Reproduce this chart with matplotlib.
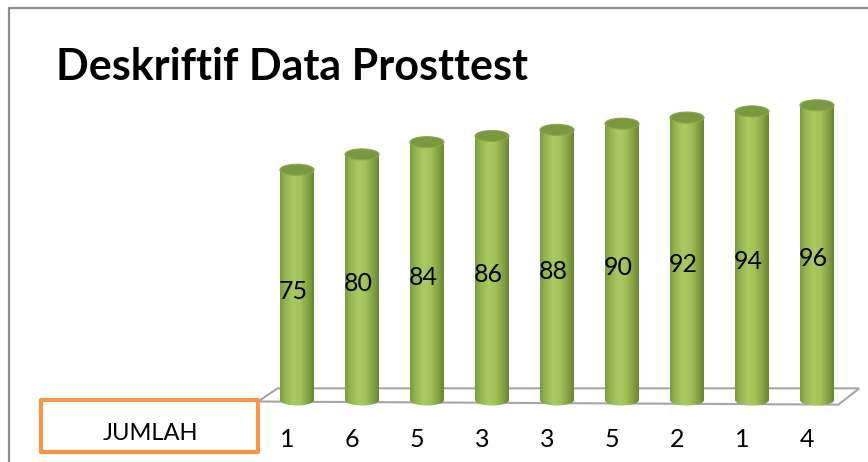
import matplotlib.pyplot as plt
import numpy as np
from matplotlib.patches import Ellipse, PathPatch, Rectangle, Polygon
from matplotlib.path import Path
from matplotlib.colors import LinearSegmentedColormap

# nilai post-test dan jumlah siswa per nilai
nilai = [75, 80, 84, 86, 88, 90, 92, 94, 96]
jumlah = [1, 6, 5, 3, 3, 5, 2, 1, 4]
judul = 'Deskriftif Data Prosttest'
label_baris = 'JUMLAH'

W, H = 868, 462
fig = plt.figure(figsize=(W / 100, H / 100), dpi=100)
ax = fig.add_axes([0, 0, 1, 1])

# data <-> pixel mapping: bar i centred at px 297 + 65*i, value 0 at px 400 from top
x0, dx = 297, 65
y0, sy = 400, 3.07
ax.set_xlim((0 - x0) / dx, (W - x0) / dx)
ax.set_ylim((y0 - H) / sy, y0 / sy)
ax.axis('off')

fnt = 'Lato'
xs = np.arange(len(nilai))
bw = 34 / dx
eh = 11 / sy

# floor (3D-ish parallelogram)
floor = Polygon([(-0.6, -0.5), (-0.3, 3.8), (8.65, 3.8), (8.33, -1.5)],
                closed=True, fill=False, edgecolor='#a6a6a6', lw=1.5, zorder=1)
ax.add_patch(floor)

cmap = LinearSegmentedColormap.from_list('cyl', [
    (0.0, '#7c9a3f'), (0.15, '#93b550'), (0.4, '#a9ca62'),
    (0.6, '#a2c35a'), (0.85, '#82a043'), (1.0, '#6a8634')])
grad = np.linspace(0, 1, 64).reshape(1, -1)

bars = ax.bar(xs, nilai, width=bw, color='none', edgecolor='none', zorder=2)
for b, v in zip(bars, nilai):
    xl, xr = b.get_x(), b.get_x() + b.get_width()
    xc = (xl + xr) / 2
    t = np.linspace(np.pi, 2 * np.pi, 30)
    bot = np.column_stack([xc + bw / 2 * np.cos(t), eh / 2 * np.sin(t)])
    verts = [(xl, v)] + [tuple(p) for p in bot] + [(xr, v), (xl, v)]
    codes = [Path.MOVETO] + [Path.LINETO] * (len(verts) - 2) + [Path.CLOSEPOLY]
    body = PathPatch(Path(verts, codes), facecolor='none', edgecolor='none')
    ax.add_patch(body)
    im = ax.imshow(grad, cmap=cmap, aspect='auto', extent=(xl, xr, -eh, v),
                   zorder=3, interpolation='bilinear')
    im.set_clip_path(body)
    ax.add_patch(Ellipse((xc, v), bw, eh, facecolor='#7a9840',
                         edgecolor='#8aa84c', lw=0.8, zorder=4))

# data labels inside the bars
for x, v in zip(xs, nilai):
    ax.text(x - 0.06, v / 2 - 2, str(v), ha='center', va='center',
            fontsize=18, family=fnt, color='black', zorder=5)

# bottom row with counts
for x, n in zip(xs, jumlah):
    ax.text(x - 0.15, -13, str(n), ha='center', va='center',
            fontsize=18, family=fnt, color='black')

# JUMLAH box (figure pixels)
fig.patches.append(Rectangle((41 / W, (H - 452) / H), 217 / W, 52 / H,
                             transform=fig.transFigure, fill=False,
                             edgecolor='#f79646', lw=3, joinstyle='round'))
fig.text(150 / W, (H - 433) / H, label_baris, ha='center', va='center',
         fontsize=17, family=fnt)

# title
fig.text(56 / W, (H - 80) / H, judul, ha='left', va='baseline',
         fontsize=31, fontweight='bold', family=fnt)

# chart border (left and top edges visible)
fig.lines.append(plt.Line2D([8.5 / W, 8.5 / W, 1], [0, (H - 8) / H, (H - 8) / H],
                            transform=fig.transFigure, color='#8c8c8c', lw=1.6))

fig.savefig('out.png', dpi=100)
